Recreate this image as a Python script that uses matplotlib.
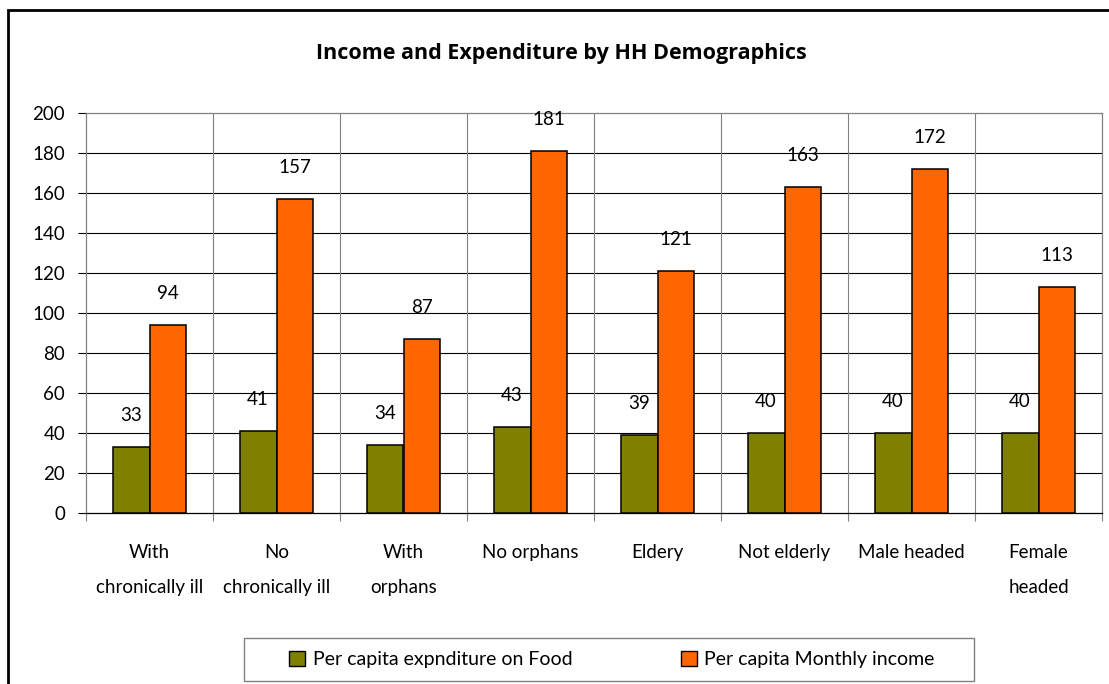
import matplotlib
matplotlib.use("Agg")
import matplotlib.pyplot as plt
from matplotlib.patches import Rectangle, Patch
import numpy as np

plt.rcParams['font.family'] = ['Lato', 'DejaVu Sans']

categories = ["With\nchronically ill", "No\nchronically ill", "With\norphans", "No orphans",
              "Eldery", "Not elderly", "Male headed", "Female\nheaded"]
food = [33, 41, 34, 43, 39, 40, 40, 40]
income = [94, 157, 87, 181, 121, 163, 172, 113]
series_names = ["Per capita expnditure on Food", "Per capita Monthly income"]
colors = ["#808000", "#FF6600"]
title = "Income and Expenditure by HH Demographics"
yticks = list(range(0, 201, 20))

FS = 13.5
W, H = 1109, 684
fig = plt.figure(figsize=(W / 100, H / 100), dpi=100)
ax = fig.add_axes([86 / W, 1 - 513 / H, 1016 / W, 400 / H])

x = np.arange(len(categories))
bw = 0.29
b1 = ax.bar(x - bw / 2, food, bw, color=colors[0], edgecolor='black', linewidth=1.1, zorder=3)
b2 = ax.bar(x + bw / 2, income, bw, color=colors[1], edgecolor='black', linewidth=1.1, zorder=3)

for bars, vals in ((b1, food), (b2, income)):
    for r, v in zip(bars, vals):
        ax.annotate(str(v), (r.get_x() + r.get_width() / 2, v), xytext=(0, 23),
                    textcoords='offset points', ha='center', va='center', fontsize=FS)

ax.set_xlim(-0.5, len(categories) - 0.5)
ax.set_ylim(0, 200)
ax.set_yticks(yticks)
ax.set_yticklabels([str(t) for t in yticks], fontsize=FS)
ax.tick_params(axis='y', length=6, width=0.8, direction='out', pad=9)

ax.set_xticks(x)
ax.set_xticklabels(categories, fontsize=FS, linespacing=2.35)
ax.tick_params(axis='x', which='major', length=0, pad=22)
ax.set_xticks(np.arange(len(categories) + 1) - 0.5, minor=True)
ax.tick_params(axis='x', which='minor', length=6, width=0.8, direction='out', color='#808080')

# gridlines
for yv in yticks[1:-1]:
    ax.axhline(yv, color='black', linewidth=0.8, zorder=1)
for xv in np.arange(1, len(categories)) - 0.5:
    ax.axvline(xv, color='#808080', linewidth=0.8, zorder=1)

for s in ['top', 'right', 'left']:
    ax.spines[s].set_color('#808080')
    ax.spines[s].set_linewidth(0.9)
ax.spines['bottom'].set_color('black')
ax.spines['bottom'].set_linewidth(0.9)

fig.text(561 / W, 1 - 54 / H, title, ha='center', va='center', fontsize=15.5,
         fontweight='bold', family=['Open Sans', 'DejaVu Sans'])

# legend frame
fig.patches.append(Rectangle((244 / W, 1 - 681 / H), 730 / W, 43 / H, transform=fig.transFigure,
                             facecolor='white', edgecolor='#808080', linewidth=1.0))
handles = [Patch(facecolor=c, edgecolor='black', linewidth=1.0) for c in colors]
fig.legend(handles, series_names, loc='center', bbox_to_anchor=(612 / W, 1 - 659.5 / H),
           ncol=2, frameon=False, fontsize=14, handlelength=0.8, handleheight=0.8,
           handletextpad=0.4, columnspacing=5.6)

# outer border
fig.patches.append(Rectangle((8 / W, -0.05), 1.2, 1 - 10 / H + 0.05, transform=fig.transFigure,
                             facecolor='none', edgecolor='black', linewidth=2.0))

fig.savefig("out.png", dpi=100)
